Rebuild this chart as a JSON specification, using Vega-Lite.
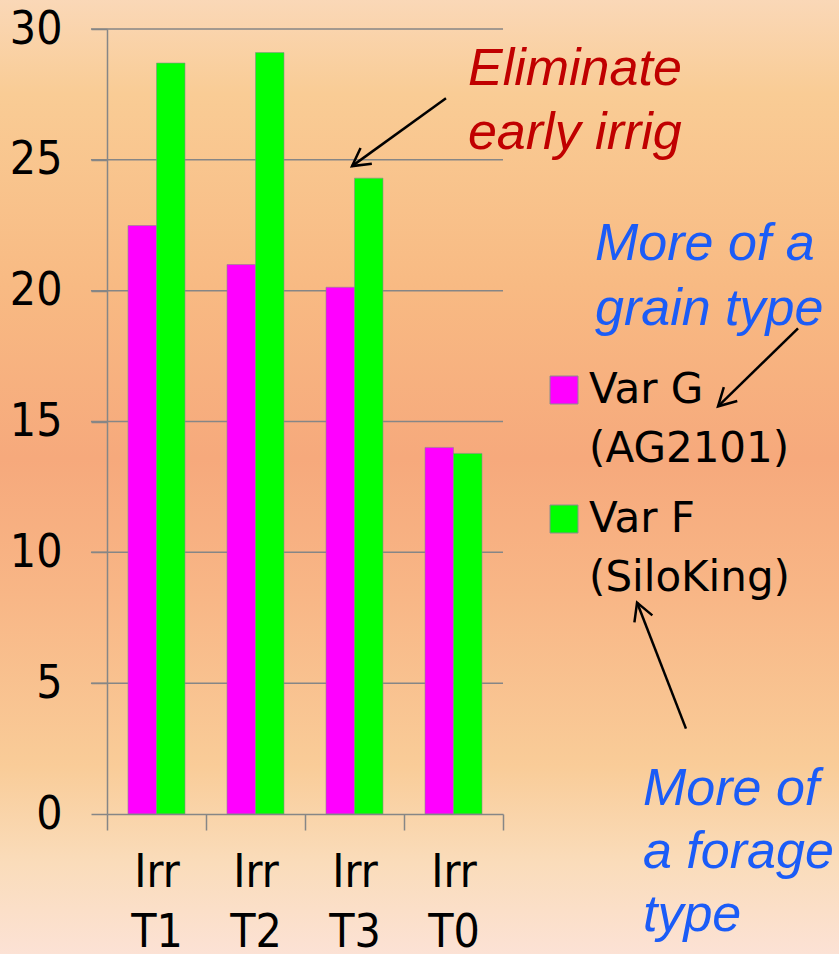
{
  "$schema": "https://vega.github.io/schema/vega-lite/v6.json",
  "width": 396,
  "height": 785,
  "autosize": {"type": "none"},
  "padding": {"left": 107, "top": 29, "right": 336, "bottom": 140},
  "background": "#F8BC88",
  "config": {"view": {"stroke": null}, "font": "DejaVu Sans Condensed"},
  "datasets": {
    "yield": [
      {"treatment": "Irr T1", "variety": "Var G (AG2101)", "value": 22.49},
      {"treatment": "Irr T1", "variety": "Var F (SiloKing)", "value": 28.7},
      {"treatment": "Irr T2", "variety": "Var G (AG2101)", "value": 21.0},
      {"treatment": "Irr T2", "variety": "Var F (SiloKing)", "value": 29.1},
      {"treatment": "Irr T3", "variety": "Var G (AG2101)", "value": 20.13},
      {"treatment": "Irr T3", "variety": "Var F (SiloKing)", "value": 24.3},
      {"treatment": "Irr T0", "variety": "Var G (AG2101)", "value": 14.01},
      {"treatment": "Irr T0", "variety": "Var F (SiloKing)", "value": 13.78}
    ],
    "gridTicks": [
      {"tick": 5}, {"tick": 10}, {"tick": 15}, {"tick": 20}, {"tick": 25}, {"tick": 30}
    ]
  },
  "resolve": {"scale": {"x": "independent", "y": "independent"}},
  "layer": [
    {
      "data": {"values": [{}]},
      "mark": {
        "type": "rect",
        "fill": {
          "gradient": "linear", "x1": 0, "y1": 0, "x2": 0, "y2": 1,
          "stops": [
            {"offset": 0, "color": "#FAD8B8"},
            {"offset": 0.1, "color": "#F9CC95"},
            {"offset": 0.3, "color": "#F8BA83"},
            {"offset": 0.48, "color": "#F6A97C"},
            {"offset": 0.62, "color": "#F8B686"},
            {"offset": 0.8, "color": "#F9CC98"},
            {"offset": 0.9, "color": "#FADCBA"},
            {"offset": 1, "color": "#FCE2D6"}
          ]
        }
      },
      "encoding": {
        "x": {"datum": -1.2, "type": "quantitative", "scale": {"domain": [0, 4]}, "axis": null},
        "x2": {"datum": 7.5},
        "y": {"datum": 31.2, "type": "quantitative", "scale": {"domain": [0, 30]}, "axis": null},
        "y2": {"datum": -5.5}
      }
    },
    {
      "data": {"name": "gridTicks"},
      "mark": {"type": "rule", "stroke": "#868686", "strokeWidth": 1.5},
      "encoding": {
        "x": {"datum": -0.162, "type": "quantitative", "scale": {"domain": [0, 4]}, "axis": null},
        "x2": {"datum": 4},
        "y": {"field": "tick", "type": "quantitative", "scale": {"domain": [0, 30]}, "axis": null}
      }
    },
    {
      "data": {"name": "yield"},
      "mark": {"type": "bar", "stroke": "#8c8c8c", "strokeWidth": 0.6},
      "encoding": {
        "x": {
          "field": "treatment", "type": "nominal",
          "sort": ["Irr T1", "Irr T2", "Irr T3", "Irr T0"],
          "scale": {"paddingInner": 0, "paddingOuter": 0},
          "axis": {
            "title": null, "labelAngle": 0, "zindex": 1,
            "labelExpr": "split(datum.label, ' ')",
            "labelFontSize": 46, "labelColor": "#000000", "labelLineHeight": 60,
            "labelBaseline": "top", "labelPadding": 20,
            "tickBand": "extent", "tickSize": 16, "tickColor": "#868686", "tickWidth": 1.5,
            "domainColor": "#868686", "domainWidth": 1.5, "grid": false
          }
        },
        "xOffset": {
          "field": "variety", "type": "nominal",
          "sort": ["Var G (AG2101)", "Var F (SiloKing)"],
          "scale": {"paddingInner": 0, "paddingOuter": 0.737}
        },
        "y": {
          "field": "value", "type": "quantitative",
          "scale": {"domain": [0, 30]},
          "axis": {
            "title": null, "values": [0, 5, 10, 15, 20, 25, 30], "zindex": 1,
            "labelFontSize": 46, "labelColor": "#000000", "labelPadding": 29,
            "tickSize": 16, "tickColor": "#868686", "tickWidth": 1.5,
            "grid": false,
            "domainColor": "#868686", "domainWidth": 1.5
          }
        },
        "color": {
          "field": "variety", "type": "nominal",
          "sort": ["Var G (AG2101)", "Var F (SiloKing)"],
          "scale": {"range": ["#FF00FF", "#00FF00"]},
          "legend": {
            "orient": "none", "legendX": 436, "legendY": 340,
            "title": null, "padding": 0,
            "symbolType": "square", "symbolSize": 784,
            "symbolStrokeColor": "#8c8c8c", "symbolStrokeWidth": 1,
            "labelFont": "DejaVu Sans",
            "labelFontSize": 42, "labelColor": "#000000",
            "labelExpr": "[slice(datum.label, 0, 5), slice(datum.label, 6)]",
            "labelOffset": 4, "labelLimit": 400, "rowPadding": 28,
            "encode": {"labels": {"update": {"lineHeight": {"value": 59}}}}
          }
        }
      }
    },
    {
      "data": {"values": [{}]},
      "mark": {
        "type": "text", "text": "Eliminate\nearly irrig", "lineBreak": "\n",
        "align": "left", "baseline": "alphabetic",
        "font": "Liberation Sans", "fontStyle": "italic", "fontSize": 52, "lineHeight": 64,
        "fill": "#C00000"
      },
      "encoding": {
        "x": {"datum": 3.646, "type": "quantitative", "scale": {"domain": [0, 4]}, "axis": null},
        "y": {"datum": 27.85, "type": "quantitative", "scale": {"domain": [0, 30]}, "axis": null}
      }
    },
    {
      "data": {"values": [{}]},
      "mark": {
        "type": "text", "text": "More of a\ngrain type", "lineBreak": "\n",
        "align": "left", "baseline": "alphabetic",
        "font": "Liberation Sans", "fontStyle": "italic", "fontSize": 52, "lineHeight": 65,
        "fill": "#1B5CF7"
      },
      "encoding": {
        "x": {"datum": 4.929, "type": "quantitative", "scale": {"domain": [0, 4]}, "axis": null},
        "y": {"datum": 21.16, "type": "quantitative", "scale": {"domain": [0, 30]}, "axis": null}
      }
    },
    {
      "data": {"values": [{}]},
      "mark": {
        "type": "text", "text": "More of\na forage\ntype", "lineBreak": "\n",
        "align": "left", "baseline": "alphabetic",
        "font": "Liberation Sans", "fontStyle": "italic", "fontSize": 52, "lineHeight": 63,
        "fill": "#1B5CF7"
      },
      "encoding": {
        "x": {"datum": 5.414, "type": "quantitative", "scale": {"domain": [0, 4]}, "axis": null},
        "y": {"datum": 0.356, "type": "quantitative", "scale": {"domain": [0, 30]}, "axis": null}
      }
    },
    {
      "data": {"values": [{}]},
      "layer": [
        {
          "mark": {"type": "rule", "stroke": "#000000", "strokeWidth": 2.5},
          "encoding": {
            "x": {"datum": 3.424, "type": "quantitative", "scale": {"domain": [0, 4]}, "axis": null},
            "y": {"datum": 27.35, "type": "quantitative", "scale": {"domain": [0, 30]}, "axis": null},
            "x2": {"datum": 2.475},
            "y2": {"datum": 24.76}
          }
        },
        {
          "mark": {"type": "point", "shape": "M -1 -0.55 L 0 0 L -1 0.55", "filled": false, "stroke": "#000000", "strokeWidth": 2.5, "size": 1225, "angle": 144.1, "opacity": 1},
          "encoding": {
            "x": {"datum": 2.475, "type": "quantitative", "scale": {"domain": [0, 4]}, "axis": null},
            "y": {"datum": 24.76, "type": "quantitative", "scale": {"domain": [0, 30]}, "axis": null}
          }
        }
      ]
    },
    {
      "data": {"values": [{}]},
      "layer": [
        {
          "mark": {"type": "rule", "stroke": "#000000", "strokeWidth": 2.5},
          "encoding": {
            "x": {"datum": 6.98, "type": "quantitative", "scale": {"domain": [0, 4]}, "axis": null},
            "y": {"datum": 18.56, "type": "quantitative", "scale": {"domain": [0, 30]}, "axis": null},
            "x2": {"datum": 6.172},
            "y2": {"datum": 15.58}
          }
        },
        {
          "mark": {"type": "point", "shape": "M -1 -0.55 L 0 0 L -1 0.55", "filled": false, "stroke": "#000000", "strokeWidth": 2.5, "size": 1225, "angle": 135.7, "opacity": 1},
          "encoding": {
            "x": {"datum": 6.172, "type": "quantitative", "scale": {"domain": [0, 4]}, "axis": null},
            "y": {"datum": 15.58, "type": "quantitative", "scale": {"domain": [0, 30]}, "axis": null}
          }
        }
      ]
    },
    {
      "data": {"values": [{}]},
      "layer": [
        {
          "mark": {"type": "rule", "stroke": "#000000", "strokeWidth": 2.5},
          "encoding": {
            "x": {"datum": 5.848, "type": "quantitative", "scale": {"domain": [0, 4]}, "axis": null},
            "y": {"datum": 3.262, "type": "quantitative", "scale": {"domain": [0, 30]}, "axis": null},
            "x2": {"datum": 5.354},
            "y2": {"datum": 8.08}
          }
        },
        {
          "mark": {"type": "point", "shape": "M -1 -0.55 L 0 0 L -1 0.55", "filled": false, "stroke": "#000000", "strokeWidth": 2.5, "size": 1225, "angle": 248.75, "opacity": 1},
          "encoding": {
            "x": {"datum": 5.354, "type": "quantitative", "scale": {"domain": [0, 4]}, "axis": null},
            "y": {"datum": 8.08, "type": "quantitative", "scale": {"domain": [0, 30]}, "axis": null}
          }
        }
      ]
    }
  ]
}
